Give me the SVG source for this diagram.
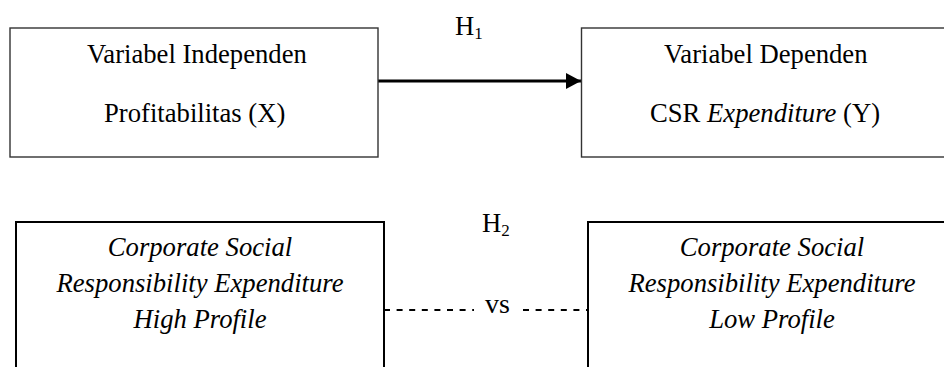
<svg xmlns="http://www.w3.org/2000/svg" width="944" height="367" viewBox="0 0 944 367">
  <style>
    .t { font-family: "Liberation Serif", "Times New Roman", serif; font-size: 26.67px; fill: #000; }
    .i { font-style: italic; }
    .sub { font-size: 17px; }
    .box1 { fill: #fff; stroke: #333; stroke-width: 1.4; }
    .box2 { fill: #fff; stroke: #000; stroke-width: 2; }
    .conn { stroke: #000; fill: none; }
  </style>
  <defs>
    <marker id="arrow" markerUnits="userSpaceOnUse" markerWidth="16" markerHeight="16" refX="15" refY="8" orient="auto">
      <path d="M0,0 L15,8 L0,16 Z" fill="#000"/>
    </marker>
  </defs>
  <rect width="944" height="367" fill="#fff"/>

  <g id="connectors">
    <line class="conn" x1="378" y1="81" x2="581" y2="81" stroke-width="3" marker-end="url(#arrow)"/>
    <line class="conn" x1="384" y1="310" x2="474" y2="310" stroke-width="2" stroke-dasharray="6 6.6"/>
    <line class="conn" x1="523" y1="310" x2="588" y2="310" stroke-width="2" stroke-dasharray="6 6.6"/>
    <text class="t" x="455" y="35">H<tspan class="sub" dy="4">1</tspan></text>
    <text class="t" x="482" y="232">H<tspan class="sub" dy="4">2</tspan></text>
    <text class="t" x="485" y="313" style="font-size:28px">vs</text>
  </g>

  <g id="node-independen">
    <rect class="box1" x="10" y="28" width="368" height="129"/>
    <text class="t" x="87" y="63">Variabel Independen</text>
    <text class="t" x="104" y="122">Profitabilitas (X)</text>
  </g>

  <g id="node-dependen">
    <rect class="box1" x="581.5" y="28" width="380" height="129"/>
    <text class="t" x="664" y="63">Variabel Dependen</text>
    <text class="t" x="650" y="122">CSR <tspan class="i">Expenditure</tspan> (Y)</text>
  </g>

  <g id="node-high-profile">
    <rect class="box2" x="16" y="222" width="368" height="160"/>
    <text class="t i" x="200" y="256" text-anchor="middle">Corporate Social</text>
    <text class="t i" x="200" y="292" text-anchor="middle">Responsibility Expenditure</text>
    <text class="t i" x="200" y="328" text-anchor="middle">High Profile</text>
  </g>

  <g id="node-low-profile">
    <rect class="box2" x="588" y="222" width="380" height="160"/>
    <text class="t i" x="772" y="256" text-anchor="middle">Corporate Social</text>
    <text class="t i" x="772" y="292" text-anchor="middle">Responsibility Expenditure</text>
    <text class="t i" x="772" y="328" text-anchor="middle">Low Profile</text>
  </g>
</svg>
